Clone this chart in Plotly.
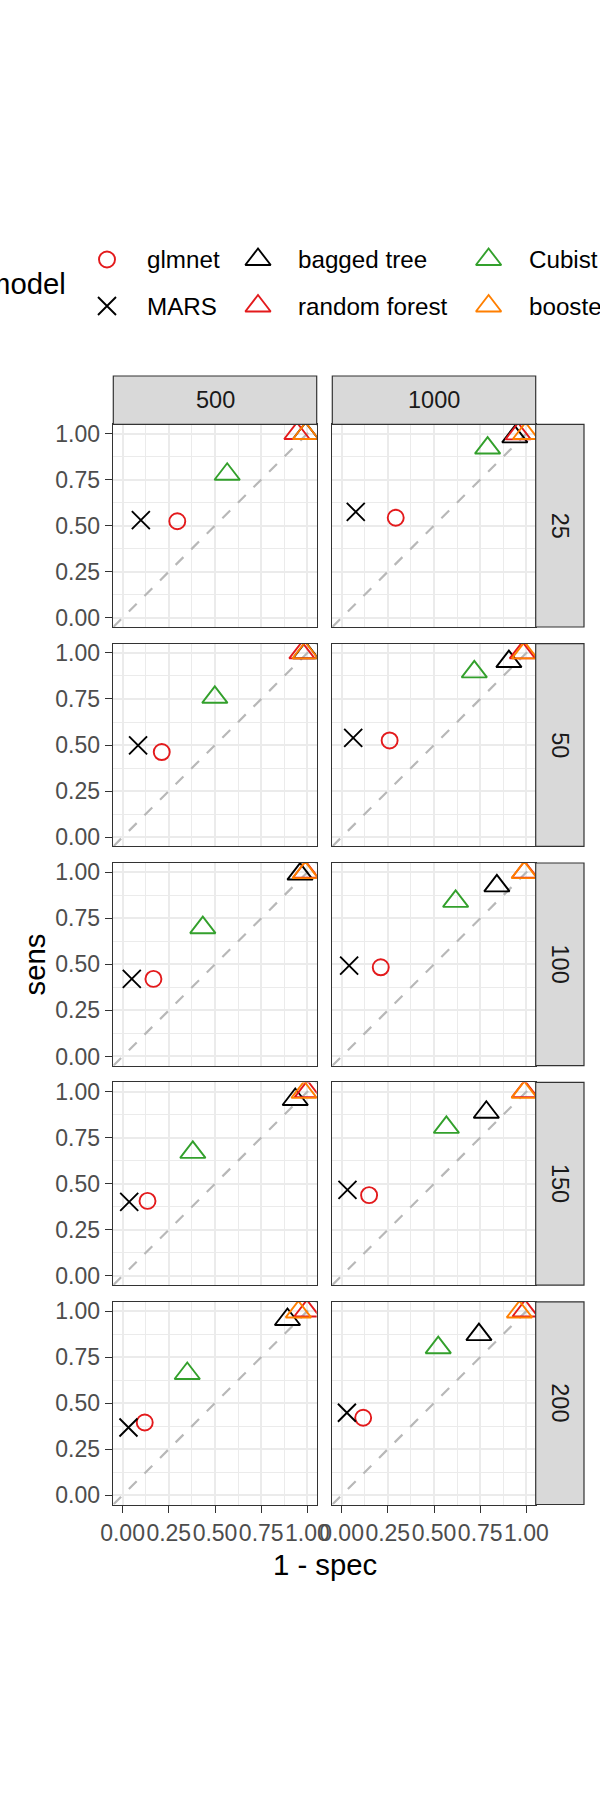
import plotly.graph_objects as go

# ---------------- data ----------------
row_labels = ["25", "50", "100", "150", "200"]
col_labels = ["500", "1000"]
model_names = ["glmnet", "MARS", "bagged tree", "random forest", "Cubist", "boosted tree"]

# one value per panel, ordered (row 25: 500, 1000), (row 50: 500, 1000), ...
glmnet_spec = [0.296, 0.293, 0.212, 0.260, 0.167, 0.212, 0.135, 0.149, 0.120, 0.117]
glmnet_sens = [0.524, 0.543, 0.462, 0.525, 0.421, 0.484, 0.407, 0.438, 0.395, 0.421]
mars_spec = [0.099, 0.077, 0.084, 0.063, 0.050, 0.041, 0.036, 0.032, 0.032, 0.029]
mars_sens = [0.530, 0.575, 0.498, 0.539, 0.421, 0.493, 0.402, 0.467, 0.368, 0.448]
bagged_spec = [0.990, 0.937, 0.990, 0.905, 0.960, 0.840, 0.934, 0.783, 0.892, 0.743]
bagged_sens = [1.000, 0.982, 1.000, 0.953, 0.990, 0.926, 0.957, 0.888, 0.954, 0.872]
rf_spec = [0.943, 0.955, 0.970, 0.978, 0.990, 0.990, 1.000, 0.990, 0.997, 0.993]
rf_sens = [1.000, 0.998, 1.000, 1.000, 1.000, 1.000, 1.000, 1.000, 1.000, 1.000]
cubist_spec = [0.566, 0.790, 0.499, 0.718, 0.434, 0.617, 0.380, 0.567, 0.350, 0.523]
cubist_sens = [0.779, 0.921, 0.759, 0.897, 0.699, 0.842, 0.670, 0.806, 0.661, 0.801]
boosted_spec = [0.990, 0.995, 0.988, 0.990, 0.988, 0.988, 0.982, 0.988, 0.951, 0.962]
boosted_sens = [1.000, 1.000, 1.000, 1.000, 0.998, 0.998, 0.996, 0.996, 0.995, 0.995]

x_spec = [glmnet_spec, mars_spec, bagged_spec, rf_spec, cubist_spec, boosted_spec]
y_sens = [glmnet_sens, mars_sens, bagged_sens, rf_sens, cubist_sens, boosted_sens]

tick_vals = [0, 0.25, 0.5, 0.75, 1.0]
tick_text = ["0.00", "0.25", "0.50", "0.75", "1.00"]
axis_range = [-0.05, 1.05]

# ---------------- styles ----------------
RED, GREEN, ORANGE, BLACK = "#E31A1C", "#33A02C", "#FF7F00", "#000000"
styles = {
    "glmnet": dict(color=RED, symbol="circle-open", size=16),
    "MARS": dict(color=BLACK, symbol="x-thin-open", size=18),
    "bagged tree": dict(color=BLACK, symbol="triangle-up-open", size=22),
    "random forest": dict(color=RED, symbol="triangle-up-open", size=22),
    "Cubist": dict(color=GREEN, symbol="triangle-up-open", size=22),
    "boosted tree": dict(color=ORANGE, symbol="triangle-up-open", size=22),
}
LW = 1.9
FONT = "Liberation Sans, Arial, Helvetica, sans-serif"

W, H = 600, 1800
col_left = [113.3, 332.3]
row_top = [424.3, 643.7, 863.0, 1082.4, 1301.8]
PW, PH = 203.4, 202.7
STRIP = 48.3


def fx(px):
    return px / W


def fy(py):
    return 1 - py / H


fig = go.Figure()
layout = {}
shapes = []
annotations = []

for r in range(len(row_labels)):
    for c in range(len(col_labels)):
        k = r * len(col_labels) + c + 1
        i = k - 1
        xid = "x" if k == 1 else f"x{k}"
        yid = "y" if k == 1 else f"y{k}"
        L, T = col_left[c], row_top[r]
        common = dict(
            range=axis_range, autorange=False, tickvals=tick_vals, ticktext=tick_text,
            showgrid=True, gridcolor="#EBEBEB", gridwidth=2,
            minor=dict(tick0=0.125, dtick=0.25, showgrid=True, gridcolor="#EBEBEB", gridwidth=1, ticks=""),
            zeroline=False, showline=True, mirror=True, linecolor="#333333", linewidth=1.2,
            tickfont=dict(family=FONT, size=23, color="#4D4D4D"),
            ticklen=7.5, tickwidth=1.3, tickcolor="#333333", fixedrange=True,
            tickangle=0, automargin=False,
        )
        xa = dict(common, domain=[fx(L), fx(L + PW)], anchor=yid)
        ya = dict(common, domain=[fy(T + PH), fy(T)], anchor=xid)
        if r == len(row_labels) - 1:
            xa.update(ticks="outside", showticklabels=True)
        else:
            xa.update(ticks="", showticklabels=False)
        if c == 0:
            ya.update(ticks="outside", showticklabels=True)
        else:
            ya.update(ticks="", showticklabels=False)
        layout["xaxis" if k == 1 else f"xaxis{k}"] = xa
        layout["yaxis" if k == 1 else f"yaxis{k}"] = ya

        # reference diagonal y = x across the panel range
        fig.add_trace(go.Scatter(
            x=axis_range, y=axis_range, mode="lines", xaxis=xid, yaxis=yid,
            line=dict(color="#B8B8B8", width=2.2, dash="11px,11px"),
            showlegend=False, hoverinfo="skip"))

        for m, name in enumerate(model_names):
            st = styles[name]
            fig.add_trace(go.Scatter(
                x=[x_spec[m][i]], y=[y_sens[m][i]], mode="markers", xaxis=xid, yaxis=yid,
                marker=dict(symbol=st["symbol"], size=st["size"], color=st["color"],
                            line=dict(color=st["color"], width=LW)),
                name=name, showlegend=False, cliponaxis=True))

# strips
for c, lab in enumerate(col_labels):
    L = col_left[c]
    shapes.append(dict(type="rect", xref="paper", yref="paper",
                       x0=fx(L), x1=fx(L + PW), y0=fy(row_top[0]), y1=fy(row_top[0] - STRIP),
                       fillcolor="#D9D9D9", line=dict(color="#333333", width=1.2), layer="above"))
    annotations.append(dict(text=lab, xref="paper", yref="paper", x=fx(L + PW / 2),
                            y=fy(row_top[0] - STRIP / 2), showarrow=False,
                            xanchor="center", yanchor="middle",
                            font=dict(family=FONT, size=23.5, color="#1A1A1A")))
RX = col_left[-1] + PW
for r, lab in enumerate(row_labels):
    T = row_top[r]
    shapes.append(dict(type="rect", xref="paper", yref="paper",
                       x0=fx(RX), x1=fx(RX + STRIP), y0=fy(T + PH), y1=fy(T),
                       fillcolor="#D9D9D9", line=dict(color="#333333", width=1.2), layer="above"))
    annotations.append(dict(text=lab, xref="paper", yref="paper", x=fx(RX + STRIP / 2),
                            y=fy(T + PH / 2), showarrow=False, textangle=90,
                            xanchor="center", yanchor="middle",
                            font=dict(family=FONT, size=23.5, color="#1A1A1A")))

# axis titles
annotations.append(dict(text="1 - spec", xref="paper", yref="paper",
                        x=fx((col_left[0] + col_left[-1] + PW) / 2), y=fy(1564),
                        showarrow=False, xanchor="center", yanchor="middle",
                        font=dict(family=FONT, size=29.3, color="#000000")))
annotations.append(dict(text="sens", xref="paper", yref="paper",
                        x=fx(34), y=fy((row_top[0] + row_top[-1] + PH) / 2),
                        showarrow=False, textangle=-90, xanchor="center", yanchor="middle",
                        font=dict(family=FONT, size=29.3, color="#000000")))

# legend (drawn manually: 3 columns x 2 rows, clipped by page like the original)
leg_col_x = [107, 258, 488.6]
leg_row_y = [259.5, 306]
leg_text_dx = 38
layout["xaxis11"] = dict(domain=[0, 1], range=[0, W], visible=False, fixedrange=True,
                         anchor="y11", automargin=False)
layout["yaxis11"] = dict(domain=[fy(340), fy(225)], range=[340, 225], visible=False,
                         fixedrange=True, anchor="x11", automargin=False)
for m, name in enumerate(model_names):
    st = styles[name]
    cx = leg_col_x[m // 2]
    cy = leg_row_y[m % 2]
    fig.add_trace(go.Scatter(
        x=[cx], y=[cy], mode="markers", xaxis="x11", yaxis="y11",
        marker=dict(symbol=st["symbol"], size=st["size"], color=st["color"],
                    line=dict(color=st["color"], width=LW)),
        showlegend=False, hoverinfo="skip", cliponaxis=False))
    annotations.append(dict(text=name, xref="paper", yref="paper", x=fx(cx + leg_text_dx),
                            y=fy(cy), showarrow=False, xanchor="left", yanchor="middle",
                            font=dict(family=FONT, size=24.2, color="#000000")))
annotations.append(dict(text="model", xref="paper", yref="paper", x=fx(68), y=fy(283),
                        showarrow=False, xanchor="right", yanchor="middle",
                        font=dict(family=FONT, size=29.3, color="#000000")))

fig.update_layout(
    width=W, height=H, margin=dict(l=0, r=0, t=0, b=0, autoexpand=False),
    paper_bgcolor="white", plot_bgcolor="white",
    showlegend=False, shapes=shapes, annotations=annotations,
    font=dict(family=FONT), **layout)

fig.write_html("out.html")
